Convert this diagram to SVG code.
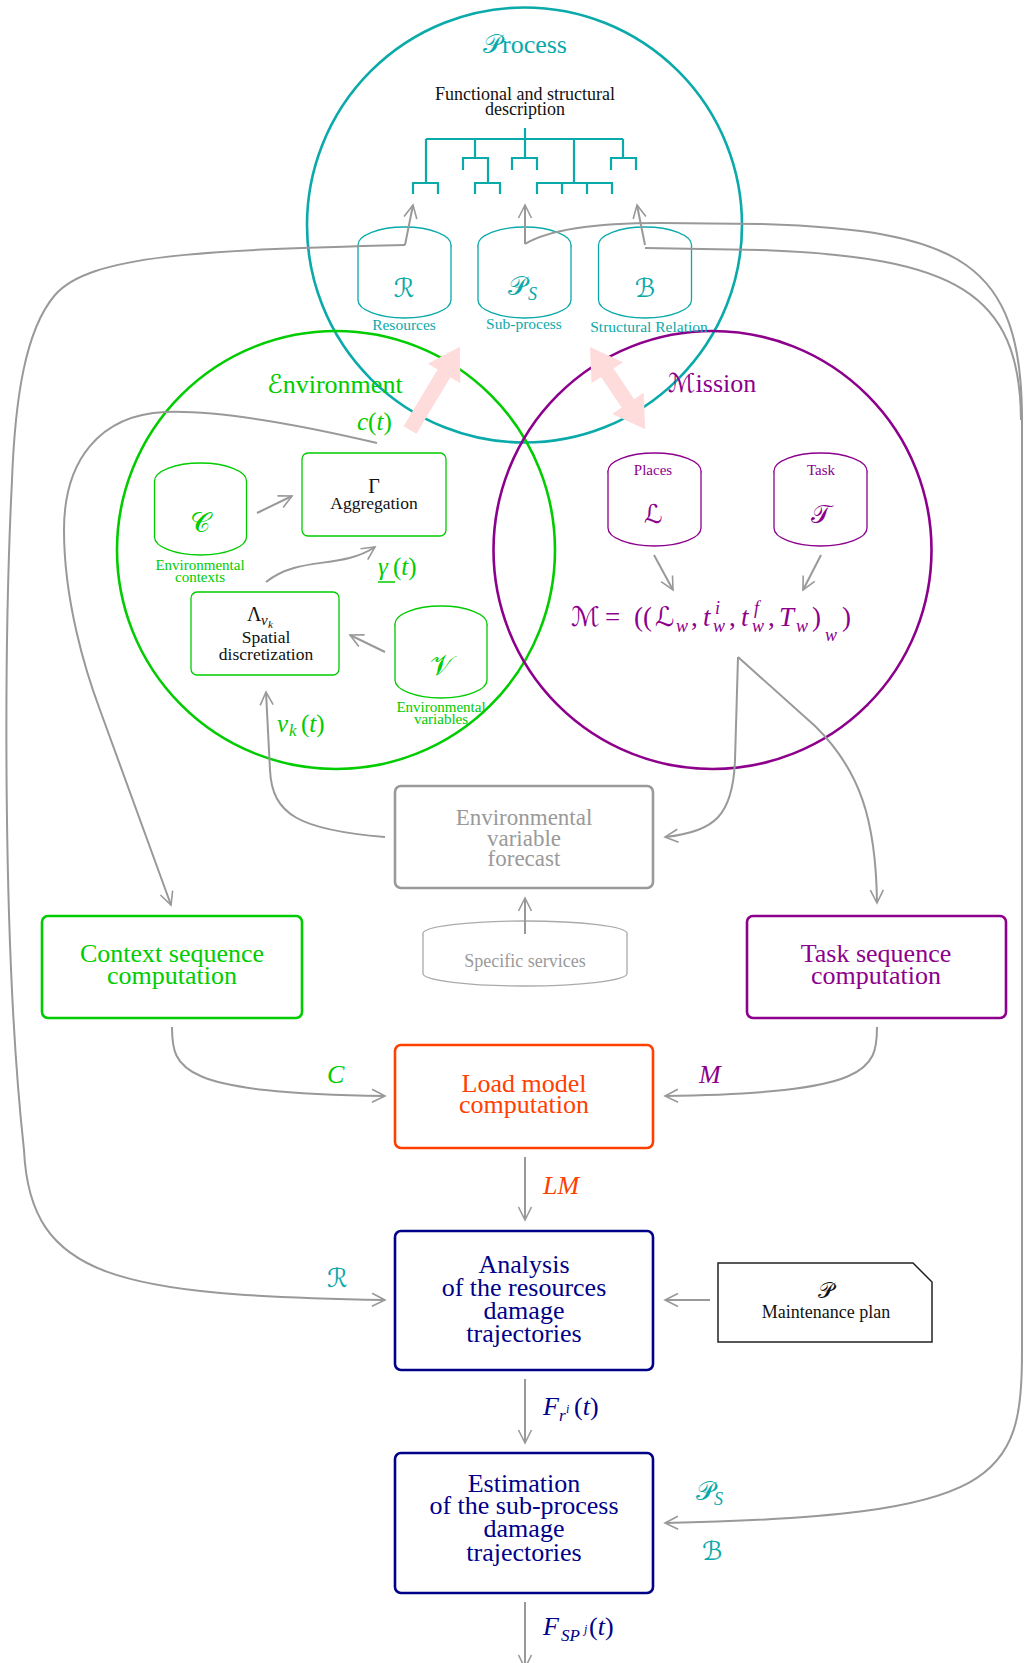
<svg xmlns="http://www.w3.org/2000/svg" width="1024" height="1663" viewBox="0 0 1024 1663">
<defs>
<marker id="ah" viewBox="-15 -9 17 18" markerWidth="17" markerHeight="18" refX="0" refY="0" orient="auto" markerUnits="userSpaceOnUse">
<path d="M -13 -6.5 L 0 0 L -13 6.5" fill="none" stroke="#999" stroke-width="1.6"/>
</marker>
<style>
text{font-family:"Liberation Serif","DejaVu Serif","DejaVu Sans",serif;}
.tl{fill:#0aa9aa}.gr{fill:#00cc00}.pu{fill:#8c008c}.or{fill:#ff4000}.nv{fill:#000088}.gy{fill:#9a9a9a}.bk{fill:#111}
.c{text-anchor:middle}
.it{font-style:italic}
.circ{fill:none;stroke-width:2.6}
.cyl{fill:#fff;stroke-width:1.3}
.box{fill:#fff;stroke-width:2.6}
.ibox{fill:#fff;stroke:#00cc00;stroke-width:1.3}
.con{fill:none;stroke:#999;stroke-width:2}
.tree{fill:none;stroke:#0aa9aa;stroke-width:2.2}
.pink{fill:#ffdcdc}
</style>
</defs>

<!-- circles -->
<g id="process-circle"><circle cx="524.5" cy="225" r="217.5" class="circ" stroke="#0aa9aa"/></g>
<g id="environment-circle"><circle cx="336" cy="550" r="219" class="circ" stroke="#00cc00"/></g>
<g id="mission-circle"><circle cx="712.5" cy="550" r="219" class="circ" stroke="#8c008c"/></g>

<!-- pink arrows -->
<g id="pink-arrows">
<polygon class="pink" points="0,-7.5 66,-7.5 66,-19 97,0 66,19 66,7.5 0,7.5" transform="translate(410,430) rotate(-59)"/>
<polygon class="pink" points="0,0 31,-19 31,-7.5 68,-7.5 68,-19 99,0 68,19 68,7.5 31,7.5 31,19" transform="translate(590,347) rotate(56.1)"/>
</g>

<!-- process contents -->
<g id="process-title"><text x="525" y="53" class="tl c" font-size="26">𝒫rocess</text></g>
<g id="fs-description">
<text x="525" y="100" class="bk c" font-size="18">Functional and structural</text>
<text x="525" y="115" class="bk c" font-size="18">description</text>
<path class="tree" d="M525 128 V139 M426 139 H623 M426 139 V183 M475 139 V158 M525 139 V158 M574 139 V183 M623 139 V158
M413 194 V183 H438 V194
M463 170 V158 H488 V183 M475 194 V183 H500 V194
M512 170 V158 H537 V170
M537 194 V183 H612 V194 M562 183 V194 M587 183 V194
M611 170 V158 H636 V170"/>
</g>

<g id="cyl-R">
<ellipse cx="404.5" cy="245" rx="46.5" ry="18" class="cyl" stroke="#0aa9aa"/>
<path d="M358 245 V300 A46.5 18 0 0 0 451 300 V245" class="cyl" stroke="#0aa9aa"/>
<text x="404" y="297" class="tl c" font-size="26">ℛ</text>
<text x="404" y="330" class="tl c" font-size="15.5">Resources</text>
</g>
<g id="cyl-PS">
<ellipse cx="524.5" cy="245" rx="46.5" ry="18" class="cyl" stroke="#0aa9aa"/>
<path d="M478 245 V300 A46.5 18 0 0 0 571 300 V245" class="cyl" stroke="#0aa9aa"/>
<text class="tl" font-size="26"><tspan x="508" y="295">𝒫</tspan><tspan x="528" y="300" font-size="18" class="it">S</tspan></text>
<text x="524" y="329" class="tl c" font-size="15.5">Sub-process</text>
</g>
<g id="cyl-B">
<ellipse cx="645" cy="245" rx="46.5" ry="18" class="cyl" stroke="#0aa9aa"/>
<path d="M598.5 245 V300 A46.5 18 0 0 0 691.5 300 V245" class="cyl" stroke="#0aa9aa"/>
<text x="645" y="297" class="tl c" font-size="26">ℬ</text>
<text x="649" y="332" class="tl c" font-size="15.5">Structural Relation</text>
</g>

<!-- environment contents -->
<g id="env-title"><text x="267" y="393" class="gr" font-size="26">ℰnvironment</text></g>
<g id="cyl-C">
<ellipse cx="200.5" cy="481" rx="46" ry="18" class="cyl" stroke="#00cc00"/>
<path d="M154.5 481 V537 A46 18 0 0 0 246.5 537 V481" class="cyl" stroke="#00cc00"/>
<text x="200" y="532" class="gr c" font-size="28">𝒞</text>
<text x="200" y="570" class="gr c" font-size="15">Environmental</text>
<text x="200" y="582" class="gr c" font-size="15">contexts</text>
</g>
<g id="aggregation">
<rect x="302" y="453" width="144" height="83" rx="6" class="ibox"/>
<text x="374" y="493" class="bk c" font-size="20">Γ</text>
<text x="374" y="509" class="bk c" font-size="17.5">Aggregation</text>
</g>
<g id="spatial">
<rect x="191" y="592" width="148" height="83" rx="6" class="ibox"/>
<text class="bk" font-size="20"><tspan x="247" y="621">Λ</tspan><tspan x="261" y="625" font-size="15" class="it">v</tspan><tspan x="268" y="628" font-size="11" class="it">k</tspan></text>
<text x="266" y="643" class="bk c" font-size="17.5">Spatial</text>
<text x="266" y="660" class="bk c" font-size="17.5">discretization</text>
</g>
<g id="cyl-V">
<ellipse cx="441" cy="624" rx="46" ry="18" class="cyl" stroke="#00cc00"/>
<path d="M395 624 V680 A46 18 0 0 0 487 680 V624" class="cyl" stroke="#00cc00"/>
<text x="441" y="675" class="gr c" font-size="28">𝒱</text>
<text x="441" y="712" class="gr c" font-size="15">Environmental</text>
<text x="441" y="724" class="gr c" font-size="15">variables</text>
</g>
<g id="env-labels">
<text x="357" y="430" class="gr" font-size="25"><tspan class="it">c</tspan>(<tspan class="it">t</tspan>)</text>
<text x="378" y="575" class="gr" font-size="25"><tspan class="it">γ</tspan><tspan x="393" y="575">(</tspan><tspan class="it">t</tspan>)</text>
<line x1="378" y1="582" x2="395" y2="582" stroke="#00cc00" stroke-width="1.5"/>
<text class="gr" font-size="25"><tspan x="277" y="732" class="it">v</tspan><tspan x="289" y="736" font-size="17" class="it">k</tspan><tspan x="301" y="732">(</tspan><tspan class="it">t</tspan>)</text>
</g>

<!-- mission contents -->
<g id="mission-title"><text x="712" y="392" class="pu c" font-size="26">ℳission</text></g>
<g id="cyl-L">
<ellipse cx="654.5" cy="471" rx="46.5" ry="18" class="cyl" stroke="#8c008c"/>
<path d="M608 471 V528 A46.5 18 0 0 0 701 528 V471" class="cyl" stroke="#8c008c"/>
<text x="653" y="475" class="pu c" font-size="15">Places</text>
<text x="653" y="523" class="pu c it" font-size="26">ℒ</text>
</g>
<g id="cyl-T">
<ellipse cx="820.5" cy="471" rx="46.5" ry="18" class="cyl" stroke="#8c008c"/>
<path d="M774 471 V528 A46.5 18 0 0 0 867 528 V471" class="cyl" stroke="#8c008c"/>
<text x="821" y="475" class="pu c" font-size="15">Task</text>
<text x="821" y="523" class="pu c" font-size="26">𝒯</text>
</g>
<g id="mission-formula">
<text class="pu" font-size="27">
<tspan x="571" y="626">ℳ</tspan>
<tspan x="605" y="626">=</tspan>
<tspan x="634" y="626">((</tspan>
<tspan x="655" y="626" class="it">ℒ</tspan>
<tspan x="676" y="632" font-size="18" class="it">w</tspan>
<tspan x="691" y="626">,</tspan>
<tspan x="703" y="626" class="it">t</tspan>
<tspan x="715" y="614" font-size="18" class="it">i</tspan>
<tspan x="713" y="632" font-size="18" class="it">w</tspan>
<tspan x="729" y="626">,</tspan>
<tspan x="741" y="626" class="it">t</tspan>
<tspan x="754" y="614" font-size="18" class="it">f</tspan>
<tspan x="752" y="632" font-size="18" class="it">w</tspan>
<tspan x="768" y="626">,</tspan>
<tspan x="779" y="626" class="it">T</tspan>
<tspan x="796" y="632" font-size="18" class="it">w</tspan>
<tspan x="812" y="626">)</tspan>
<tspan x="825" y="641" font-size="18" class="it">w</tspan>
<tspan x="842" y="626">)</tspan>
</text>
</g>

<!-- lower nodes -->
<g id="forecast">
<rect x="395" y="786" width="258" height="102" rx="6" class="box" stroke="#9a9a9a"/>
<text x="524" y="825" class="gy c" font-size="23">Environmental</text>
<text x="524" y="846" class="gy c" font-size="23">variable</text>
<text x="524" y="866" class="gy c" font-size="23">forecast</text>
</g>
<g id="specific-services">
<ellipse cx="525" cy="933.5" rx="102" ry="12.5" class="cyl" stroke="#aaa"/>
<path d="M423 933.5 V973.5 A102 12.5 0 0 0 627 973.5 V933.5" class="cyl" stroke="#aaa"/>
<text x="525" y="967" class="gy c" font-size="18">Specific services</text>
</g>
<g id="context-seq">
<rect x="42" y="916" width="260" height="102" rx="6" class="box" stroke="#00cc00"/>
<text x="172" y="962" class="gr c" font-size="26">Context sequence</text>
<text x="172" y="984" class="gr c" font-size="26">computation</text>
</g>
<g id="task-seq">
<rect x="747" y="916" width="259" height="102" rx="6" class="box" stroke="#8c008c"/>
<text x="876" y="962" class="pu c" font-size="26">Task sequence</text>
<text x="876" y="984" class="pu c" font-size="26">computation</text>
</g>
<g id="load-model">
<rect x="395" y="1045" width="258" height="103" rx="6" class="box" stroke="#ff4000"/>
<text x="524" y="1092" class="or c" font-size="26">Load model</text>
<text x="524" y="1113" class="or c" font-size="26">computation</text>
</g>
<g id="analysis">
<rect x="395" y="1231" width="258" height="139" rx="6" class="box" stroke="#000088"/>
<text x="524" y="1273" class="nv c" font-size="26">Analysis</text>
<text x="524" y="1296" class="nv c" font-size="26">of the resources</text>
<text x="524" y="1319" class="nv c" font-size="26">damage</text>
<text x="524" y="1342" class="nv c" font-size="26">trajectories</text>
</g>
<g id="maintenance-plan">
<polygon points="718,1263 913,1263 932,1282 932,1342 718,1342" fill="#fff" stroke="#222" stroke-width="1.5"/>
<text x="826" y="1298" class="bk c" font-size="22">𝒫</text>
<text x="826" y="1318" class="bk c" font-size="18">Maintenance plan</text>
</g>
<g id="estimation">
<rect x="395" y="1453" width="258" height="140" rx="6" class="box" stroke="#000088"/>
<text x="524" y="1492" class="nv c" font-size="26">Estimation</text>
<text x="524" y="1514" class="nv c" font-size="26">of the sub-process</text>
<text x="524" y="1537" class="nv c" font-size="26">damage</text>
<text x="524" y="1561" class="nv c" font-size="26">trajectories</text>
</g>

<!-- connectors -->
<g id="connectors">
<path class="con" d="M405 245 L413 205" marker-end="url(#ah)"/>
<path class="con" d="M525 244 L525 205" marker-end="url(#ah)"/>
<path class="con" d="M645 245 L637 205" marker-end="url(#ah)"/>
<path class="con" d="M405 245 C200 250, 90 255, 55 295 C25 330, 15 400, 12 480 C4 640, 2 950, 24 1150 C30 1280, 120 1295, 385 1300" marker-end="url(#ah)"/>
<path class="con" d="M525 244 C548 230, 590 223, 660 223 L760 224 C960 230, 1022 262, 1022 420 L1022 1350 C1022 1480, 1000 1516, 665 1523" marker-end="url(#ah)"/>
<path class="con" d="M645 248 L760 250 C955 257, 1020 292, 1021 420"/>
<path class="con" d="M377 443 C300 425, 220 410, 165 412 C100 415, 64 460, 64 530 C64 600, 85 670, 100 710 L171 905" marker-end="url(#ah)"/>
<path class="con" d="M257 513 L292 496" marker-end="url(#ah)"/>
<path class="con" d="M266 582 C300 555, 340 570, 375 547" marker-end="url(#ah)"/>
<path class="con" d="M385 652 L350 635" marker-end="url(#ah)"/>
<path class="con" d="M385 837 C300 830, 272 815, 270 770 L266 692" marker-end="url(#ah)"/>
<path class="con" d="M654 555 L673 590" marker-end="url(#ah)"/>
<path class="con" d="M821 555 L803 590" marker-end="url(#ah)"/>
<path class="con" d="M738 657 L735 760 C733 815, 715 832, 665 837" marker-end="url(#ah)"/>
<path class="con" d="M738 657 L815 726 C860 770, 876 820, 877 903" marker-end="url(#ah)"/>
<path class="con" d="M525 934 L525 898" marker-end="url(#ah)"/>
<path class="con" d="M172 1027 C172 1070, 180 1093, 385 1096" marker-end="url(#ah)"/>
<path class="con" d="M877 1027 C877 1070, 869 1093, 665 1096" marker-end="url(#ah)"/>
<path class="con" d="M525 1157 L525 1220" marker-end="url(#ah)"/>
<path class="con" d="M710 1300 L665 1300" marker-end="url(#ah)"/>
<path class="con" d="M525 1379 L525 1443" marker-end="url(#ah)"/>
<path class="con" d="M525 1602 L525 1668" marker-end="url(#ah)"/>
</g>

<!-- connector labels -->
<g id="connector-labels">
<text x="327" y="1083" class="gr it" font-size="26">C</text>
<text x="699" y="1083" class="pu it" font-size="26">M</text>
<text x="543" y="1194" class="or it" font-size="26">LM</text>
<text x="327" y="1287" class="tl" font-size="26">ℛ</text>
<text class="nv" font-size="26"><tspan x="543" y="1415" class="it">F</tspan><tspan x="559" y="1421" font-size="17" class="it">r</tspan><tspan x="566" y="1413" font-size="12" class="it">i</tspan><tspan x="574" y="1415">(</tspan><tspan class="it">t</tspan>)</text>
<text class="tl" font-size="26"><tspan x="696" y="1500">𝒫</tspan><tspan x="714" y="1505" font-size="18" class="it">S</tspan></text>
<text x="702" y="1560" class="tl" font-size="26">ℬ</text>
<text class="nv" font-size="26"><tspan x="543" y="1635" class="it">F</tspan><tspan x="561" y="1641" font-size="17" class="it">SP</tspan><tspan x="584" y="1633" font-size="12" class="it">j</tspan><tspan x="589" y="1635">(</tspan><tspan class="it">t</tspan>)</text>
</g>
</svg>
